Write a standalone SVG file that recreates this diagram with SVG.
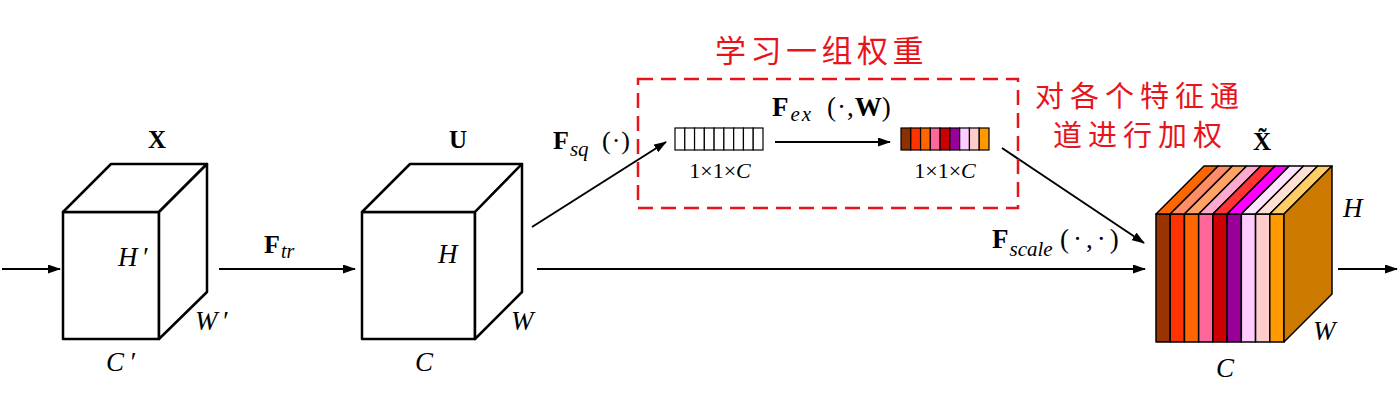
<svg xmlns="http://www.w3.org/2000/svg" width="1400" height="407" viewBox="0 0 1400 407">
<style>
.cube{fill:#fff;stroke:#000;stroke-width:2.5;stroke-linejoin:round}
.strip{stroke:#000;stroke-width:1.5;stroke-linejoin:round}
.cell{fill:#fff;stroke:#000;stroke-width:1.2}
.ccell{stroke:#000;stroke-width:1.2}
.conn{fill:none;stroke:#000;stroke-width:2}
.tm{font-family:"Liberation Serif","Times New Roman",serif;fill:#000}
.b{font-weight:bold}
.i{font-style:italic}
.cn{font-family:"Noto Sans CJK SC","Noto Sans CJK JP",sans-serif;fill:#e8141c}
</style>
<defs>
<marker id="ah" markerUnits="userSpaceOnUse" markerWidth="13" markerHeight="9" refX="12" refY="4.5" orient="auto">
<path d="M0,0 L13,4.5 L0,9 z" fill="#000"/>
</marker>
</defs>
<rect width="1400" height="407" fill="#fff"/>

<g id="connectors">
<line class="conn" x1="2" y1="269" x2="60" y2="269" marker-end="url(#ah)"/>
<line class="conn" x1="219" y1="269" x2="355" y2="269" marker-end="url(#ah)"/>
<line class="conn" x1="532" y1="227" x2="666" y2="142" marker-end="url(#ah)"/>
<line class="conn" x1="775" y1="142" x2="890" y2="142" marker-end="url(#ah)"/>
<line class="conn" x1="537" y1="269" x2="1145" y2="269" marker-end="url(#ah)"/>
<line class="conn" x1="1002" y1="148" x2="1144" y2="243" marker-end="url(#ah)"/>
<line class="conn" x1="1338" y1="269" x2="1397" y2="269" marker-end="url(#ah)"/>
</g>

<g id="node-X">
<rect class="cube" x="63" y="212" width="96" height="127"/>
<polygon class="cube" points="63,212 111,164 207,164 159,212"/>
<polygon class="cube" points="159,212 207,164 207,292 159,339"/>
<text class="tm b" x="157" y="148" font-size="25" text-anchor="middle">X</text>
<text class="tm i" x="118" y="266" font-size="27">H<tspan dx="4">′</tspan></text>
<text class="tm i" x="195" y="330" font-size="27">W<tspan dx="4">′</tspan></text>
<text class="tm i" x="106" y="371" font-size="27">C<tspan dx="5">′</tspan></text>
</g>

<g id="node-U">
<rect class="cube" x="362" y="212" width="113" height="127"/>
<polygon class="cube" points="362,212 410,164 522,164 475,212"/>
<polygon class="cube" points="475,212 522,164 522,292 475,339"/>
<text class="tm b" x="458" y="148" font-size="25" text-anchor="middle">U</text>
<text class="tm i" x="438" y="263" font-size="27">H</text>
<text class="tm i" x="511" y="330" font-size="27">W</text>
<text class="tm i" x="415" y="371" font-size="27">C</text>
</g>

<g id="label-Ftr">
<text class="tm" x="264" y="253" font-size="26"><tspan class="b">F</tspan><tspan class="i" font-size="20" dy="5" dx="1">tr</tspan></text>
</g>

<g id="label-Fsq">
<text class="tm" x="553" y="149" font-size="26"><tspan class="b">F</tspan><tspan class="i" font-size="21" dy="7" dx="1">sq</tspan><tspan x="602" dy="-7" letter-spacing="1">(·)</tspan></text>
</g>

<g id="group-learn">
<rect x="638" y="79" width="380" height="129" fill="none" stroke="#e8141c" stroke-width="2.5" stroke-dasharray="15 8"/>
<text class="cn" x="715" y="62" font-size="31" letter-spacing="4.5">学习一组权重</text>
</g>

<g id="node-vec1">
<rect class="cell" x="675" y="128" width="9.78" height="22"/>
<rect class="cell" x="684.78" y="128" width="9.78" height="22"/>
<rect class="cell" x="694.56" y="128" width="9.78" height="22"/>
<rect class="cell" x="704.33" y="128" width="9.78" height="22"/>
<rect class="cell" x="714.11" y="128" width="9.78" height="22"/>
<rect class="cell" x="723.89" y="128" width="9.78" height="22"/>
<rect class="cell" x="733.67" y="128" width="9.78" height="22"/>
<rect class="cell" x="743.44" y="128" width="9.78" height="22"/>
<rect class="cell" x="753.22" y="128" width="9.78" height="22"/>
<text class="tm" x="720" y="178" font-size="22" text-anchor="middle">1×1×<tspan class="i">C</tspan></text>
</g>

<g id="label-Fex">
<text class="tm" x="772" y="116" font-size="27"><tspan class="b">F</tspan><tspan class="i" font-size="21" dy="5" dx="2" letter-spacing="2">ex</tspan><tspan x="827" dy="-5" letter-spacing="1">(·,</tspan><tspan class="b">W</tspan>)</text>
</g>

<g id="node-vec2">
<rect class="ccell" x="901" y="128" width="9.78" height="22" fill="#8b3000"/>
<rect class="ccell" x="910.78" y="128" width="9.78" height="22" fill="#ff3300"/>
<rect class="ccell" x="920.56" y="128" width="9.78" height="22" fill="#ff6600"/>
<rect class="ccell" x="930.33" y="128" width="9.78" height="22" fill="#ff6699"/>
<rect class="ccell" x="940.11" y="128" width="9.78" height="22" fill="#cc0000"/>
<rect class="ccell" x="949.89" y="128" width="9.78" height="22" fill="#990099"/>
<rect class="ccell" x="959.67" y="128" width="9.78" height="22" fill="#ffccff"/>
<rect class="ccell" x="969.44" y="128" width="9.78" height="22" fill="#ffcccc"/>
<rect class="ccell" x="979.22" y="128" width="9.78" height="22" fill="#ff9900"/>
<text class="tm" x="945" y="178" font-size="22" text-anchor="middle">1×1×<tspan class="i">C</tspan></text>
</g>

<g id="label-Fscale">
<text class="tm" x="992" y="248" font-size="27"><tspan class="b">F</tspan><tspan class="i" font-size="21" dy="8" dx="1">scale</tspan><tspan x="1060" dy="-8" letter-spacing="4">(·,·)</tspan></text>
</g>

<g id="label-weighting">
<text class="cn" x="1035" y="107" font-size="29" letter-spacing="6">对各个特征通</text>
<text class="cn" x="1053" y="146" font-size="29" letter-spacing="6">道进行加权</text>
</g>

<g id="node-Xtilde">
<g class="strip">
<rect x="1156" y="214" width="14.22" height="128" fill="#993300"/>
<rect x="1170.22" y="214" width="14.22" height="128" fill="#ff3300"/>
<rect x="1184.44" y="214" width="14.22" height="128" fill="#ff6600"/>
<rect x="1198.67" y="214" width="14.22" height="128" fill="#ff6699"/>
<rect x="1212.89" y="214" width="14.22" height="128" fill="#cc0000"/>
<rect x="1227.11" y="214" width="14.22" height="128" fill="#990099"/>
<rect x="1241.33" y="214" width="14.22" height="128" fill="#ffccff"/>
<rect x="1255.56" y="214" width="14.22" height="128" fill="#ffcccc"/>
<rect x="1269.78" y="214" width="14.22" height="128" fill="#ff9900"/>
<polygon points="1156,214 1204,166 1218.22,166 1170.22,214" fill="#ff6600"/>
<polygon points="1170.22,214 1218.22,166 1232.44,166 1184.44,214" fill="#ff8c66"/>
<polygon points="1184.44,214 1232.44,166 1246.67,166 1198.67,214" fill="#ffa366"/>
<polygon points="1198.67,214 1246.67,166 1260.89,166 1212.89,214" fill="#ffaacc"/>
<polygon points="1212.89,214 1260.89,166 1275.11,166 1227.11,214" fill="#ff3333"/>
<polygon points="1227.11,214 1275.11,166 1289.33,166 1241.33,214" fill="#ff00ff"/>
<polygon points="1241.33,214 1289.33,166 1303.56,166 1255.56,214" fill="#ffe5ff"/>
<polygon points="1255.56,214 1303.56,166 1317.78,166 1269.78,214" fill="#ffe0d5"/>
<polygon points="1269.78,214 1317.78,166 1332,166 1284,214" fill="#ffcc66"/>
<polygon points="1284,214 1332,166 1332,294 1284,342" fill="#cc7a00"/>
</g>
<text class="tm b" x="1262" y="150" font-size="25" text-anchor="middle">X̃</text>
<text class="tm i" x="1343" y="217" font-size="27">H</text>
<text class="tm i" x="1313" y="340" font-size="27">W</text>
<text class="tm i" x="1216" y="377" font-size="27">C</text>
</g>
</svg>
